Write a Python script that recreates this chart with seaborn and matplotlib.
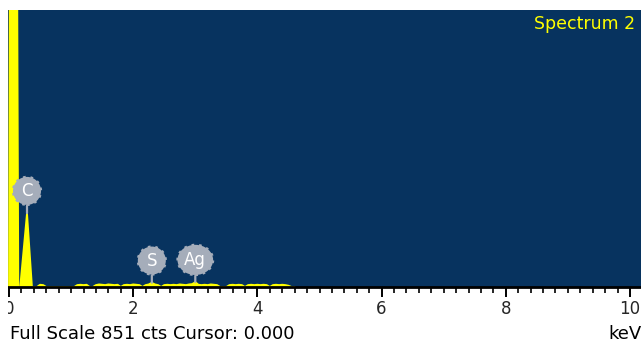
import numpy as np
import pandas as pd
import matplotlib
matplotlib.use("Agg")
import matplotlib.pyplot as plt
from matplotlib.ticker import MultipleLocator
import seaborn as sns

# EDS spectrum: energy (keV) and counts
peak_kev = [0.00, 0.02, 0.07, 0.125, 0.15, 0.18, 0.29, 0.37, 0.40]
peak_cts = [0, 1500, 2400, 1300, 0, 0, 227, 0, 0]

bg_kev = np.round(np.arange(0.45, 4.601, 0.05), 2)
bg_cts = [0, 7, 6, 0, 0, 0, 0, 0, 0, 0, 0,
          0, 0, 6, 7, 6, 7, 0, 0, 6, 8,
          7, 6, 8, 7, 6, 7, 0, 6, 7, 6,
          8, 7, 6, 0, 6, 8, 13, 8, 6, 0,
          6, 7, 6, 7, 6, 8, 7, 6, 8, 9,
          15, 7, 6, 7, 6, 8, 7, 6, 0, 0,
          0, 6, 7, 6, 7, 6, 0, 6, 7, 6,
          7, 6, 7, 6, 0, 6, 7, 6, 7, 6,
          4, 0, 0]

elements = ["C", "S", "Ag"]
element_kev = [0.29, 2.30, 3.00]

full_scale = 851
x_ticks = [0, 2, 4, 6, 8, 10]

df = pd.DataFrame({
    "kev": np.concatenate([peak_kev, bg_kev]),
    "cts": np.concatenate([peak_cts, bg_cts]).astype(float),
})

sns.set_style("white")
plt.rcParams["font.family"] = ["DejaVu Sans"]

W, H = 641, 344
fig = plt.figure(figsize=(W / 100, H / 100), dpi=100)
fig.patch.set_facecolor("white")
ax = fig.add_axes([8 / W, 57 / H, 633 / W, 277 / H])
ax.set_facecolor("#07335f")

yellow = "#ffff00"
ax.fill_between(df["kev"], df["cts"], 0, color=yellow, lw=0, zorder=2)
sns.lineplot(data=df, x="kev", y="cts", color=yellow, lw=1.3,
             estimator=None, sort=False, ax=ax, zorder=2)

ax.set_xlim(-1 / 62.1, (W - 9) / 62.1)
ax.set_ylim(0, full_scale)
ax.set_xlabel("")
ax.set_ylabel("")
ax.set_yticks([])
ax.set_xticks(x_ticks)
ax.set_xticklabels([str(t) for t in x_ticks])
ax.xaxis.set_minor_locator(MultipleLocator(0.2))
ax.tick_params(axis="x", which="major", direction="out", length=7, width=1.4,
               color="black", labelsize=12, pad=2, bottom=True)
ax.tick_params(axis="x", which="minor", direction="out", length=4, width=1.2,
               color="black", bottom=True)
for side in ["top", "right", "left"]:
    ax.spines[side].set_visible(False)
ax.spines["bottom"].set_color("black")
ax.spines["bottom"].set_linewidth(2)
ax.spines["bottom"].set_zorder(3)

# element markers above the peaks
badge = "#a5adba"
for name, e in zip(elements, element_kev):
    top = float(np.interp(e, df["kev"], df["cts"]))
    style = "ellipse,pad=0.1" if len(name) > 1 else "circle,pad=0.3"
    ax.annotate(name, xy=(e, top), xytext=(0, 16), textcoords="offset points",
                ha="center", va="center", color="white", fontsize=12,
                bbox=dict(boxstyle=style, fc=badge, ec=badge, lw=1.6,
                          ls=(0, (1.2, 2.2))),
                arrowprops=dict(arrowstyle="-", color=badge, lw=1.6,
                                shrinkA=0, shrinkB=0),
                zorder=5)

ax.text((534 - 8) / 633, 1 - 19 / 277, "Spectrum 2", transform=ax.transAxes,
        color=yellow, fontsize=12.5, ha="left", va="baseline")

fig.text(10 / W, 1 - 339 / H, "Full Scale 851 cts Cursor: 0.000",
         fontsize=13, ha="left", va="baseline", color="black")
fig.text(608 / W, 1 - 339 / H, "keV", fontsize=13, ha="left",
         va="baseline", color="black")

# white margin on the left edge
fig.patches.append(plt.Rectangle((0, 0), 8 / W, 1, transform=fig.transFigure,
                                 fc="white", ec="none", zorder=10))

fig.savefig("out.png", dpi=100)
